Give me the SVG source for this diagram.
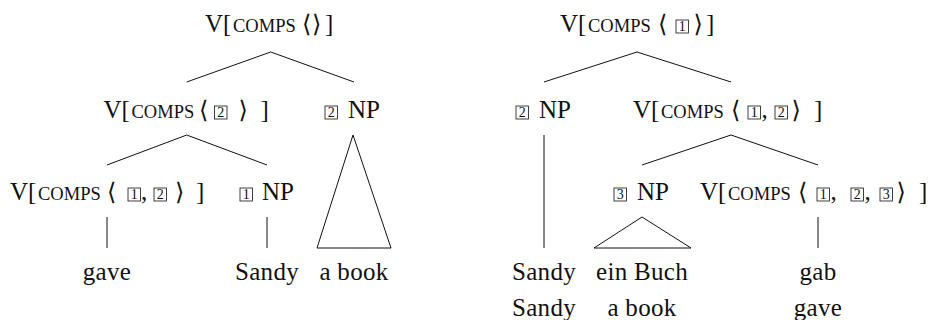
<svg xmlns="http://www.w3.org/2000/svg" width="930" height="320" viewBox="0 0 930 320" font-family="'Liberation Serif', 'Times New Roman', 'DejaVu Serif', serif">
<style>
text { font-family: 'Liberation Serif', 'Times New Roman', 'DejaVu Serif', serif; }
.t { font-size: 25px; fill: #111; }
.leaf { text-anchor: middle; letter-spacing: 0.3px; }
.sc { font-size: 18.5px; }
.ab { font-size: 24px; }
.bx { fill: none; stroke: #111; stroke-width: 0.8; }
.d { font-size: 14px; text-anchor: middle; fill: #111; }
.e { stroke: #111; stroke-width: 1; fill: none; }
</style>
<rect width="930" height="320" fill="#fff"/>
<g id="connectors">
  <path class="e" d="M270.7,52 L186.7,82 M270.7,52 L354,82"/>
  <path class="e" d="M186.7,135 L107,165 M186.7,135 L267,165"/>
  <path class="e" d="M353,135 L317,248 L391,248 Z"/>
  <path class="e" d="M107,217 V248 M267,217 V248"/>
  <path class="e" d="M637,52 L544,82 M637,52 L731,82"/>
  <path class="e" d="M544,135 V248"/>
  <path class="e" d="M731,135 L642,165 M731,135 L818,165"/>
  <path class="e" d="M642,217 L594,248 L691,248 Z"/>
  <path class="e" d="M818,217 V248"/>
</g>
<g id="nA">
  <text class="t" y="32"><tspan x="205">V</tspan><tspan x="223">[</tspan><tspan x="233" class="sc">COMPS</tspan><tspan x="302" class="ab">⟨</tspan><tspan x="312" class="ab">⟩</tspan><tspan x="325">]</tspan></text>
</g>
<g id="nB">
  <text class="t" y="118"><tspan x="103.5">V</tspan><tspan x="121.5">[</tspan><tspan x="131.5" class="sc">COMPS</tspan><tspan x="199" class="ab">⟨</tspan><tspan x="238.5" class="ab">⟩</tspan><tspan x="260.5">]</tspan></text>
  <rect class="bx" x="214.5" y="106" width="12.5" height="13"/><text class="d" x="220.75" y="116.8">2</text>
</g>
<g id="nC">
  <rect class="bx" x="325" y="106" width="12.5" height="13"/><text class="d" x="331.25" y="116.8">2</text>
  <text class="t" x="348" y="118">NP</text>
</g>
<g id="nD">
  <text class="t" y="200"><tspan x="10">V</tspan><tspan x="28">[</tspan><tspan x="38" class="sc">COMPS</tspan><tspan x="107" class="ab">⟨</tspan><tspan x="141">,</tspan><tspan x="175" class="ab">⟩</tspan><tspan x="196">]</tspan></text>
  <rect class="bx" x="128" y="188" width="12.5" height="13"/><text class="d" x="134.25" y="198.8">1</text>
  <rect class="bx" x="154" y="188" width="12.5" height="13"/><text class="d" x="160.25" y="198.8">2</text>
</g>
<g id="nE">
  <rect class="bx" x="240" y="188" width="12.5" height="13"/><text class="d" x="246.25" y="198.8">1</text>
  <text class="t" x="262" y="200">NP</text>
</g>
<g id="leaf-gave"><text class="t leaf" x="107" y="280">gave</text></g>
<g id="leaf-sandy1"><text class="t leaf" x="267" y="280">Sandy</text></g>
<g id="leaf-abook1"><text class="t leaf" x="354" y="280">a book</text></g>

<g id="nF">
  <text class="t" y="32"><tspan x="560">V</tspan><tspan x="578">[</tspan><tspan x="588" class="sc">COMPS</tspan><tspan x="658" class="ab">⟨</tspan><tspan x="693.5" class="ab">⟩</tspan><tspan x="706">]</tspan></text>
  <rect class="bx" x="676" y="20" width="12.5" height="13"/><text class="d" x="682.25" y="30.8">1</text>
</g>
<g id="nG">
  <rect class="bx" x="516" y="106" width="12.5" height="13"/><text class="d" x="522.25" y="116.8">2</text>
  <text class="t" x="539" y="118">NP</text>
</g>
<g id="nH">
  <text class="t" y="118"><tspan x="633">V</tspan><tspan x="651">[</tspan><tspan x="661" class="sc">COMPS</tspan><tspan x="731" class="ab">⟨</tspan><tspan x="761.5">,</tspan><tspan x="791.5" class="ab">⟩</tspan><tspan x="814">]</tspan></text>
  <rect class="bx" x="748" y="106" width="12.5" height="13"/><text class="d" x="754.25" y="116.8">1</text>
  <rect class="bx" x="775" y="106" width="12.5" height="13"/><text class="d" x="781.25" y="116.8">2</text>
</g>
<g id="nI">
  <rect class="bx" x="614" y="188" width="12.5" height="13"/><text class="d" x="620.25" y="198.8">3</text>
  <text class="t" x="637" y="200">NP</text>
</g>
<g id="nJ">
  <text class="t" y="200"><tspan x="700">V</tspan><tspan x="718">[</tspan><tspan x="728" class="sc">COMPS</tspan><tspan x="798" class="ab">⟨</tspan><tspan x="830.5">,</tspan><tspan x="864.5">,</tspan><tspan x="896.5" class="ab">⟩</tspan><tspan x="919">]</tspan></text>
  <rect class="bx" x="817" y="188" width="12.5" height="13"/><text class="d" x="823.25" y="198.8">1</text>
  <rect class="bx" x="851" y="188" width="12.5" height="13"/><text class="d" x="857.25" y="198.8">2</text>
  <rect class="bx" x="880" y="188" width="12.5" height="13"/><text class="d" x="886.25" y="198.8">3</text>
</g>
<g id="leaf-sandy2">
  <text class="t leaf" x="544" y="280">Sandy</text>
  <text class="t leaf" x="544" y="316">Sandy</text>
</g>
<g id="leaf-einbuch">
  <text class="t leaf" x="642" y="280">ein Buch</text>
  <text class="t leaf" x="642" y="316">a book</text>
</g>
<g id="leaf-gab">
  <text class="t leaf" x="818" y="280">gab</text>
  <text class="t leaf" x="818" y="316">gave</text>
</g>
</svg>
